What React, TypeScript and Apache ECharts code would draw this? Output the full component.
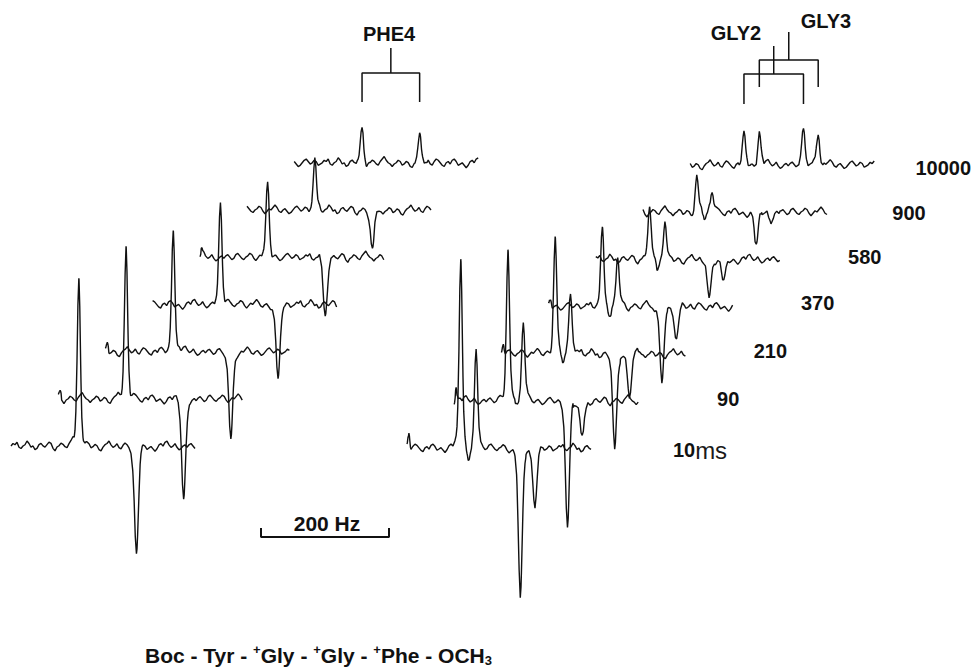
import { useEffect, useRef } from 'react';
import * as echarts from 'echarts';

// ---------------- data ----------------
// relaxation delays (one trace per delay, bottom to top)
const delays = ['10ms', '90', '210', '370', '580', '900', '10000'];

// PHE4 doublet: line positions inside each trace window (Hz) and signed intensities
const pheShiftsHz = [106, 196];
const pheAmps = [
  [169, -109],
  [150, -103],
  [126, -91],
  [102, -78],
  [73, -59],
  [50, -42],
  [33, 25],
];

// GLY2 / GLY3 lines: positions (Hz) and signed intensities per delay
const glyShiftsHz = [84, 108, 177, 200];
const glyAmps = [
  [190, 100, -152, -57],
  [151, 78, -129, -39],
  [117, 62, -98, -43],
  [77, 50, -78, -31],
  [55, 39, -41, -23],
  [36, 22, -36, -8],
  [30, 32, 35, 31],
];
// small dip between the two positive GLY lines, and spike at trace start
const glyDipHz = 96;
const glyDip = [-12, -4, -10, -9, -15, -7, 0];
const edgeSpikeHz = 3;
const glyEdgeSpike = [16, 16, 12, 8, 0, 0, 0];
const pheEdgeSpike = [0, 6, 8, 0, 6, 0, 0];

const NOISE = [
  0, 2, 1, 3, -1, -2, 0, 1, 4, 2, -1, 0, -3, -2, 1, 2, 0, -1, 1, 3,
  2, -2, -4, -1, 0, 2, 1, -1, -2, 1, 3, 5, 2, 0, -1, -3, -1, 0, 2, 1,
  -2, -1, 1, 0, -3, -4, -1, 1, 2, 4, 1, -1, 0, 2, -1, -2, 1, 3, 2, 0,
  -2, -3, 0, 1, -1, 2, 3, 1, -2, -1, 0, -2, -4, -2, 1, 2, 0, 3, 4, 1,
  -1, 0, 2, -1, -3, -2, 0, 1, -1, 1, 2, 0, -2, -1, 2, 3, 1, -1, -2, 0,
  1, 3, 2, -1, -3, -1, 1, 0, 2, 4, 2, -1, -2, 0, 1, -1, -3, -2, 0, 2,
  3, 1, -1, 0, 2, 1, -2, -1,
];

// ---------------- layout (pixels) ----------------
const W = 974;
const H = 668;
const PX_HZ = 1.5625; // 200 Hz = 128 px
const TRACE_SPAN_HZ = 290;
const NOISE_STEP_HZ = 3.125;
const NOISE_GAIN = 1.25;
const STAGGER = 47.2;
const LEFT_X0 = 11;
const LEFT_BASE0 = 446;
const RIGHT_X0 = 407;
const RIGHT_BASE0 = 448;
const LABEL_DX = [293, 274, 269, 269, 269, 266, 253];
const LABEL_DY = [2, -2, -3, -3, -2, 1, 3];
const HW_POS = 2.9;
const HW_NEG = 3.6;
const ETA = 0.2;
const PEAK_SAMPLES = [-4, -2.5, -1.6, -1, -0.5, 0, 0.5, 1, 1.6, 2.5, 4];
const FONT = '"Liberation Sans", Arial, sans-serif';
const INK = '#111';

const toX = (px: number) => px * PX_HZ;
const toY = (py: number) => H - py;

function lineShape(dx: number, hw: number) {
  const u = dx / hw;
  return ETA / (1 + u * u) + (1 - ETA) * Math.exp(-0.6931 * u * u);
}

type Peak = [number, number, number];

function buildTrace(peaks: Peak[], noiseStart: number, startPx: number, basePx: number) {
  const xs: number[] = [];
  for (let i = 0; i * NOISE_STEP_HZ <= TRACE_SPAN_HZ; i++) xs.push(i * NOISE_STEP_HZ);
  for (const [p, a, hw] of peaks) {
    if (a === 0) continue;
    for (const f of PEAK_SAMPLES) {
      const x = p + f * hw;
      if (x > 0 && x < TRACE_SPAN_HZ) xs.push(x);
    }
  }
  xs.sort((a, b) => a - b);
  const out: number[][] = [];
  for (const x of xs) {
    let v = NOISE[(noiseStart + Math.round(x / NOISE_STEP_HZ)) % NOISE.length] * NOISE_GAIN;
    for (const [p, a, hw] of peaks) if (a !== 0) v += a * lineShape(x - p, hw);
    out.push([toX(startPx) + x, toY(basePx) + v]);
  }
  return out;
}

const hwFor = (a: number) => (a > 0 ? HW_POS : HW_NEG);

function lineSeries(data: number[][], width = 1.4) {
  return {
    type: 'line',
    data,
    showSymbol: false,
    symbol: 'none',
    silent: true,
    clip: false,
    lineStyle: { color: INK, width },
  };
}

function buildOption() {
  const series: any[] = [];
  // left group (PHE4)
  delays.forEach((_, k) => {
    const peaks: Peak[] = pheShiftsHz.map((p, j) => [p, pheAmps[k][j], hwFor(pheAmps[k][j])] as Peak);
    peaks.push([edgeSpikeHz, pheEdgeSpike[k], 1.5]);
    series.push(lineSeries(buildTrace(peaks, (k * 19) % NOISE.length, LEFT_X0 + k * STAGGER, LEFT_BASE0 - k * STAGGER)));
  });
  // right group (GLY2, GLY3)
  delays.forEach((_, k) => {
    const peaks: Peak[] = glyShiftsHz.map((p, j) => [p, glyAmps[k][j], hwFor(glyAmps[k][j])] as Peak);
    peaks.push([glyDipHz, glyDip[k], 3]);
    peaks.push([edgeSpikeHz, glyEdgeSpike[k], 1.5]);
    series.push(lineSeries(buildTrace(peaks, (k * 19 + 53) % NOISE.length, RIGHT_X0 + k * STAGGER, RIGHT_BASE0 - k * STAGGER)));
  });

  // assignment brackets over the top traces
  const topL = toX(LEFT_X0 + 6 * STAGGER);
  const topR = toX(RIGHT_X0 + 6 * STAGGER);
  const bracket = (xa: number, xb: number, foot: number, bar: number, top: number) => {
    series.push(lineSeries([[xa, toY(foot)], [xa, toY(bar)], [xb, toY(bar)], [xb, toY(foot)]], 1.5));
    const mid = (xa + xb) / 2;
    series.push(lineSeries([[mid, toY(bar)], [mid, toY(top)]], 1.5));
  };
  bracket(topL + pheShiftsHz[0], topL + pheShiftsHz[1], 102, 73, 48);
  bracket(topR + glyShiftsHz[0], topR + glyShiftsHz[2], 104, 74, 46);
  bracket(topR + glyShiftsHz[1], topR + glyShiftsHz[3], 87, 60, 32);

  // 200 Hz scale bar
  const sb0 = toX(261);
  series.push(lineSeries([[sb0, toY(528)], [sb0, toY(537)], [sb0 + 200, toY(537)], [sb0 + 200, toY(528)]], 2));

  // delay labels
  series.push({
    type: 'scatter',
    silent: true,
    symbolSize: 0,
    itemStyle: { color: INK, opacity: 1 },
    data: delays.map((d, k) => ({
      name: d,
      value: [
        toX(RIGHT_X0 + k * STAGGER + LABEL_DX[k]),
        toY(RIGHT_BASE0 - k * STAGGER + LABEL_DY[k]),
      ],
    })),
    label: {
      show: true,
      position: 'inside',
      color: INK,
      opacity: 1,
      textBorderWidth: 0,
      formatter: (p: any) =>
        p.name.endsWith('ms') ? `{b|${p.name.slice(0, -2)}}{m|ms}` : `{b|${p.name}}`,
      rich: {
        b: { fontFamily: FONT, fontWeight: 'bold', fontSize: 20, color: INK, lineHeight: 26, textBorderWidth: 0 },
        m: { fontFamily: FONT, fontWeight: 'normal', fontSize: 24, color: '#1a1a1a', lineHeight: 26, textBorderWidth: 0 },
      },
    },
  });

  const title = (text: string, x: number, y: number) => ({
    type: 'text',
    x,
    y,
    silent: true,
    style: {
      text,
      fill: INK,
      font: `bold 20px ${FONT}`,
      align: 'center',
      verticalAlign: 'middle',
    },
  });

  return {
    animation: false,
    backgroundColor: '#fff',
    grid: { left: 0, right: 0, top: 0, bottom: 0, outerBoundsMode: 'none' },
    xAxis: { type: 'value', min: 0, max: W * PX_HZ, show: false },
    yAxis: { type: 'value', min: 0, max: H, show: false },
    series,
    graphic: [
      title('PHE4', 389, 34),
      title('GLY2', 736, 33),
      title('GLY3', 826, 21),
      {
        type: 'text',
        x: 327,
        y: 523,
        silent: true,
        style: { text: '200 Hz', fill: INK, font: `bold 21px ${FONT}`, align: 'center', verticalAlign: 'middle' },
      },
      {
        type: 'text',
        x: 145,
        y: 655,
        silent: true,
        style: {
          text: '{n|Boc - Tyr - }{p|+}{n|Gly - }{p|+}{n|Gly - }{p|+}{n|Phe - OCH}{s|3}',
          align: 'left',
          verticalAlign: 'middle',
          rich: {
            n: { fontFamily: FONT, fontWeight: 'bold', fontSize: 21, fill: INK, lineHeight: 24 },
            p: { fontFamily: FONT, fontWeight: 'bold', fontSize: 13, fill: INK, lineHeight: 24, verticalAlign: 'top' },
            s: { fontFamily: FONT, fontWeight: 'bold', fontSize: 13, fill: INK, lineHeight: 24, verticalAlign: 'bottom' },
          },
        },
      },
    ],
  };
}

export default function App() {
  const ref = useRef<HTMLDivElement>(null);
  useEffect(() => {
    const chart = echarts.init(ref.current!, null, { renderer: 'svg' });
    chart.setOption(buildOption() as any);
    return () => chart.dispose();
  }, []);
  return (
    <div
      ref={ref}
      style={{ position: 'absolute', left: 0, top: 0, width: W, height: H, background: '#fff' }}
    />
  );
}
